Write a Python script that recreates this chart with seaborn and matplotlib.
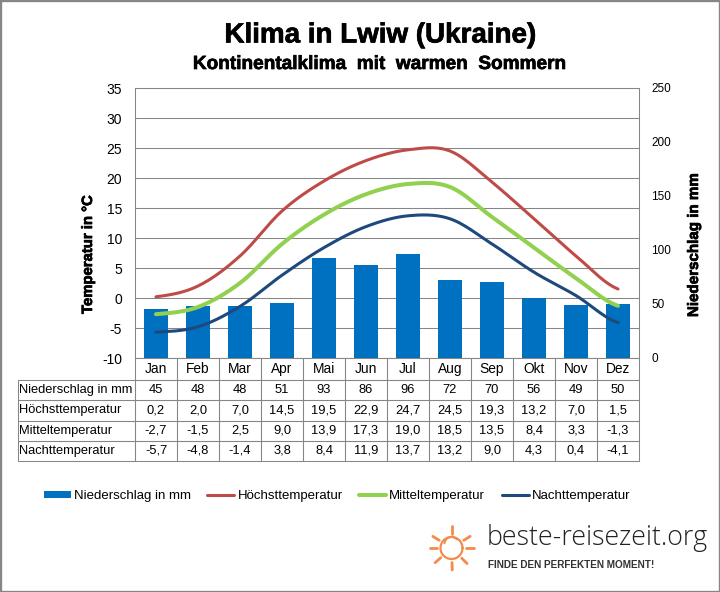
import numpy as np
import matplotlib
matplotlib.use("Agg")
import matplotlib.pyplot as plt
import matplotlib.patheffects as pe
from matplotlib.lines import Line2D
from matplotlib.patches import Rectangle, Patch
import seaborn as sns

months = ["Jan", "Feb", "Mar", "Apr", "Mai", "Jun", "Jul", "Aug", "Sep", "Okt", "Nov", "Dez"]
precip = [45, 48, 48, 51, 93, 86, 96, 72, 70, 56, 49, 50]
t_max = [0.2, 2.0, 7.0, 14.5, 19.5, 22.9, 24.7, 24.5, 19.3, 13.2, 7.0, 1.5]
t_mean = [-2.7, -1.5, 2.5, 9.0, 13.9, 17.3, 19.0, 18.5, 13.5, 8.4, 3.3, -1.3]
t_night = [-5.7, -4.8, -1.4, 3.8, 8.4, 11.9, 13.7, 13.2, 9.0, 4.3, 0.4, -4.1]
label_p, label_max, label_mean, label_night = ("Niederschlag in mm", "Höchsttemperatur",
                                                "Mitteltemperatur", "Nachttemperatur")
temp_ticks = list(range(-10, 40, 5))
precip_ticks = list(range(0, 300, 50))

C_BAR, C_MAX, C_MEAN, C_NIGHT = "#0070C0", "#BE4B48", "#92D050", "#1F497D"
GRAY = "#868686"
W, H = 720, 592
sns.set_theme(style="white")
plt.rcParams["font.family"] = ["Liberation Sans", "DejaVu Sans"]

fig = plt.figure(figsize=(W / 100, H / 100), dpi=100, facecolor="white")


def px(x0, y0, x1, y1):
    return [x0 / W, 1 - y1 / H, (x1 - x0) / W, (y1 - y0) / H]


def smooth(y, n=24):
    """Draw-time spline through the table values, like the spreadsheet's smoothed line."""
    y = np.asarray(y, float)
    p = np.r_[y[0], y, y[-1]]
    xs, ys = [], []
    for i in range(len(y) - 1):
        t = np.linspace(0, 1, n, endpoint=False)
        a, b, c, d = p[i], p[i + 1], p[i + 2], p[i + 3]
        ys.append(0.5 * (2 * b + (c - a) * t + (2 * a - 5 * b + 4 * c - d) * t**2
                         + (3 * b - a - 3 * c + d) * t**3))
        xs.append(i + t)
    return np.r_[np.concatenate(xs), len(y) - 1], np.r_[np.concatenate(ys), y[-1]]


ax = fig.add_axes(px(135, 88, 639, 358), zorder=1)
ax.set_xlim(-0.5, 11.5)
ax.set_ylim(-10, 35)
ax.set_yticks(temp_ticks)
ax.set_xticks([])
ax.grid(axis="y", color=GRAY, lw=0.75)
ax.set_axisbelow(True)
ax.tick_params(axis="y", length=0, labelsize=10, pad=9.4, labelcolor="black")
ax.set_yticklabels([str(t) for t in temp_ticks])
for s in ax.spines.values():
    s.set_color(GRAY)
    s.set_linewidth(0.75)

axr = ax.twinx()
axr.set_zorder(2)
axr.patch.set_visible(False)
sns.barplot(x=np.arange(12), y=precip, ax=axr, color=C_BAR, width=0.55, saturation=1,
            native_scale=True, edgecolor="none")
axr.set_xlim(-0.5, 11.5)
axr.set_ylim(0, 250)
axr.set_yticks(precip_ticks)
axr.set_yticklabels([str(t) for t in precip_ticks])
axr.tick_params(axis="y", length=0, labelsize=8.5, pad=9, labelcolor="black", right=True, labelright=True)
axr.set_xticks([])
axr.grid(False)
for s in axr.spines.values():
    s.set_visible(False)

axl = ax.twinx()
axl.set_zorder(3)
axl.patch.set_visible(False)
for vals, col, lw in ((t_max, C_MAX, 2.2), (t_mean, C_MEAN, 2.9), (t_night, C_NIGHT, 2.2)):
    xs, ys = smooth(vals)
    sns.lineplot(x=xs, y=ys, ax=axl, color=col, lw=lw, estimator=None, sort=False)
axl.set_xlim(-0.5, 11.5)
axl.set_ylim(-10, 35)
axl.axis("off")

# table below the plot
rows = [[""] + months,
        [label_p] + [str(v) for v in precip]]
for lab, vals in ((label_max, t_max), (label_mean, t_mean), (label_night, t_night)):
    rows.append([lab] + [f"{v:.1f}".replace(".", ",") for v in vals])
cw = [117 / 621] + [42 / 621] * 12
tb = ax.table(cellText=rows, colWidths=cw, cellLoc="center",
              bbox=[(18 - 135) / 504, -103 / 270, 621 / 504, 103 / 270])
tb.auto_set_font_size(False)
for (r, c), cell in tb.get_celld().items():
    cell.set_edgecolor(GRAY)
    cell.set_linewidth(0.75)
    cell.set_facecolor("none")
    cell.get_text().set_fontsize(9.9 if r == 0 else 9.3)
    cell.get_text().set_color("black")
    if c == 0:
        cell.get_text().set_ha("left")
        cell.PAD = 0.005
    if r == 0:
        cell.set_height(22)
        if c == 0:
            cell.visible_edges = ""
    else:
        cell.set_height(20.25)

heavy = [pe.withStroke(linewidth=0.5, foreground="black")]
fig.text(380 / W, 1 - 35.5 / H, "Klima in Lwiw (Ukraine)", ha="center", va="center",
         fontsize=20, fontweight="bold", color="black", path_effects=heavy)
fig.text(379 / W, 1 - 64.5 / H, "Kontinentalklima  mit  warmen  Sommern", ha="center", va="center",
         fontsize=13.7, fontweight="bold", color="black", path_effects=heavy)
fig.text(88 / W, 1 - 255 / H, "Temperatur in °C", rotation=90, ha="center", va="center",
         fontsize=10.7, fontweight="bold", color="black", path_effects=heavy)
fig.text(694 / W, 1 - 245 / H, label_p, rotation=90, ha="center", va="center",
         fontsize=10.9, fontweight="bold", color="black", path_effects=heavy)

handles = [Patch(facecolor=C_BAR, edgecolor="none"),
           Line2D([], [], color=C_MAX, lw=2.2),
           Line2D([], [], color=C_MEAN, lw=2.9),
           Line2D([], [], color=C_NIGHT, lw=2.2)]
fig.legend(handles, [label_p, label_max, label_mean, label_night], ncol=4, frameon=False,
           loc="center", bbox_to_anchor=(337 / W, 1 - 496 / H), fontsize=9.5, labelcolor="black",
           handlelength=2.05, handletextpad=0.23, columnspacing=1.25, handleheight=0.5)

# outer frame
fig.add_artist(Rectangle((0, 0), 1, 1, transform=fig.transFigure, fill=False, ec=GRAY, lw=2.4))

# logo
OR = "#F58A4B"
tr = fig.transFigure
cx, cy, rad = 451.5, 548, 11
th = np.linspace(0, 2 * np.pi, 80)
fig.add_artist(Line2D((cx + rad * np.cos(th)) / W, 1 - (cy - rad * np.sin(th)) / H, color=OR, lw=1.6, transform=tr))
th2 = np.linspace(np.radians(40), np.radians(175), 30)
fig.add_artist(Line2D((cx + 7 * np.cos(th2)) / W, 1 - (cy - 4 - 7 * np.sin(th2)) / H, color=OR, lw=1.4, transform=tr))
for ang in (0, 32, 90, 148, 180, 222, 272, 315):
    a = np.radians(ang)
    fig.add_artist(Line2D([(cx + 14.5 * np.cos(a)) / W, (cx + 22 * np.cos(a)) / W],
                          [1 - (cy - 14.5 * np.sin(a)) / H, 1 - (cy - 22 * np.sin(a)) / H],
                          color=OR, lw=2, transform=tr, solid_capstyle="round"))
fig.text(487 / W, 1 - 538 / H, "beste-reisezeit.org", fontsize=19.3, family="Open Sans", fontweight=300,
         color="#222222", ha="left", va="center")
fig.text(488 / W, 1 - 565 / H, "FINDE DEN PERFEKTEN MOMENT!", fontsize=7.2, fontweight="bold",
         color="#333333", ha="left", va="center")

fig.savefig("out.png", dpi=100, facecolor="white")
